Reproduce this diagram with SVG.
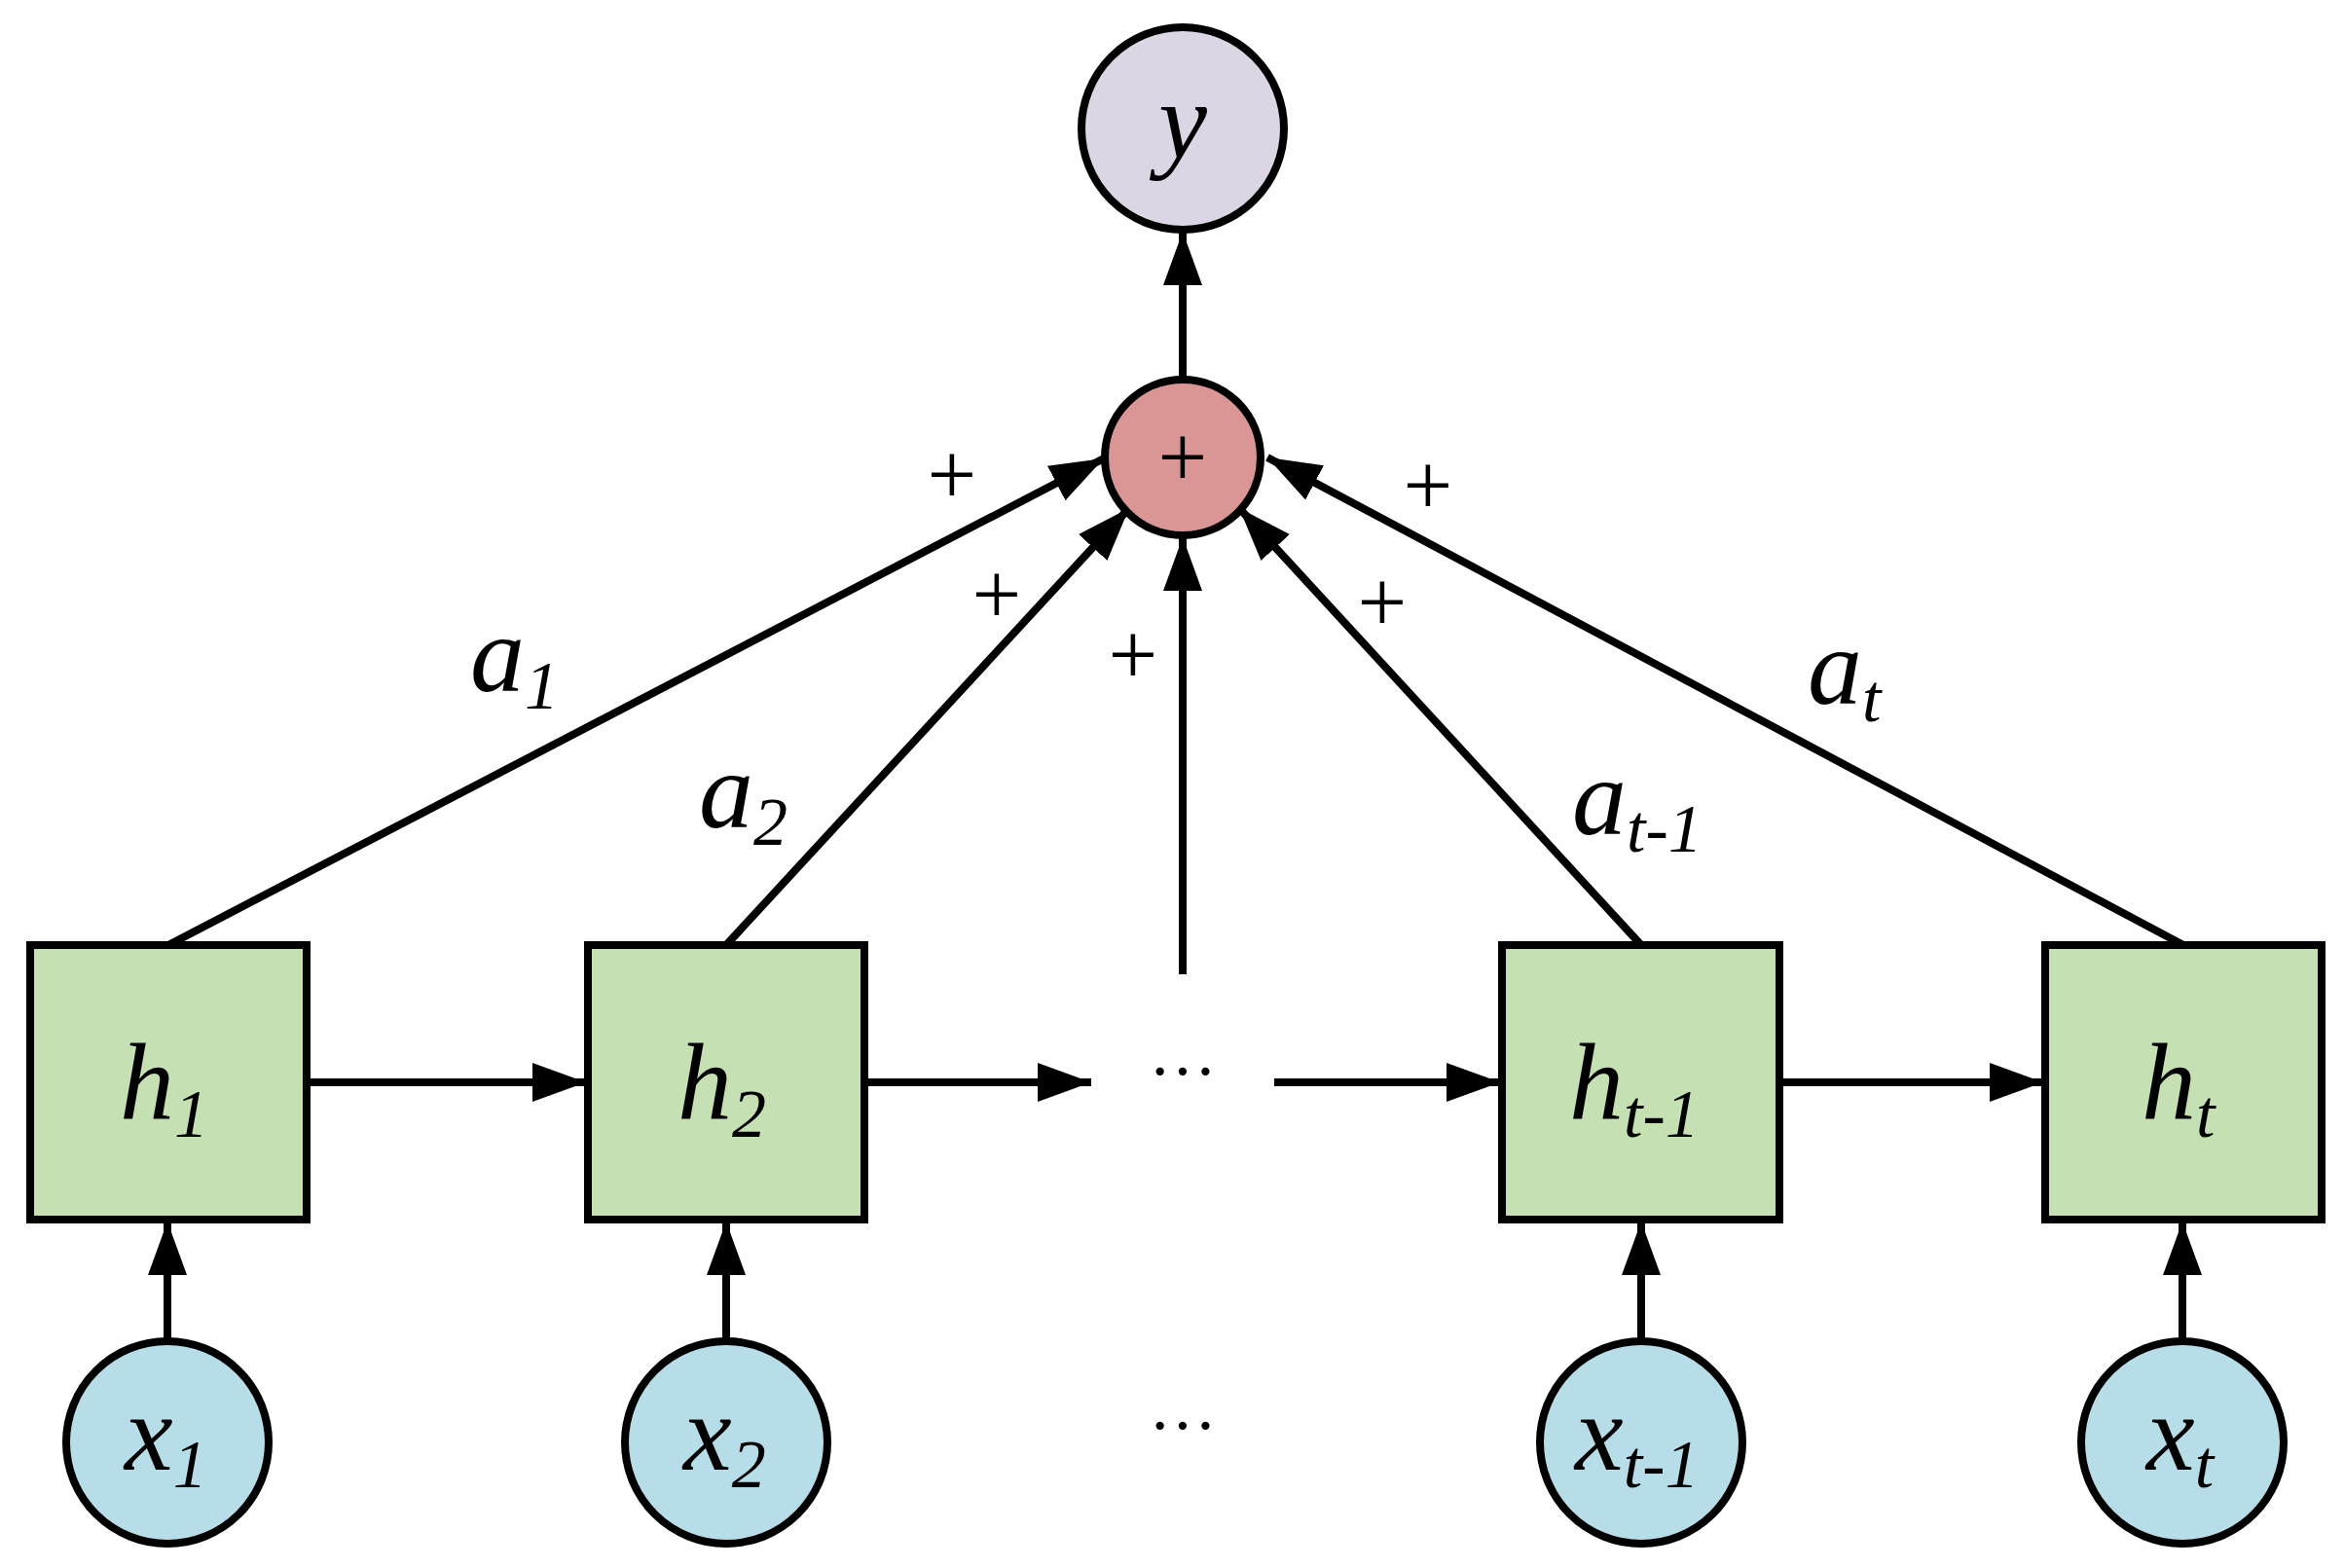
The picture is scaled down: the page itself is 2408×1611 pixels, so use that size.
<svg xmlns="http://www.w3.org/2000/svg" width="2408" height="1611" viewBox="0 0 2408 1611">
<style>
.box{fill:#c5e0b3;stroke:#000;stroke-width:8}
.xin{fill:#b7dee8;stroke:#000;stroke-width:8}
.out{fill:#dcd6e4;stroke:#000;stroke-width:8}
.sum{fill:#d99694;stroke:#000;stroke-width:8}
.ln{stroke:#000;stroke-width:8;fill:none;marker-end:url(#ah)}
.v{font-family:"Liberation Serif",serif;font-style:italic;font-size:112px;fill:#000}
.s{font-family:"Liberation Serif",serif;font-size:70px;fill:#000}
.si{font-family:"Liberation Serif",serif;font-style:italic;font-size:70px;fill:#000}
.p{font-family:"Liberation Serif",serif;font-size:90px;fill:#000}
.d{font-family:"Liberation Serif",serif;font-size:70px;fill:#000}
</style>
<defs>
<marker id="ah" markerUnits="userSpaceOnUse" markerWidth="60" markerHeight="44" refX="55" refY="20" orient="auto">
<path d="M0,0 L55,20 L0,40 z" fill="#000"/>
</marker>
</defs>
<g id="connectors">
<line class="ln" x1="1215" y1="390" x2="1215" y2="238"/>
<line class="ln" x1="173" y1="971" x2="1134" y2="471"/>
<line class="ln" x1="746" y1="971" x2="1160" y2="522"/>
<line class="ln" x1="1215" y1="1001" x2="1215" y2="552"/>
<line class="ln" x1="1686" y1="971" x2="1273" y2="522"/>
<line class="ln" x1="2243" y1="971" x2="1302" y2="470"/>
<line class="ln" x1="315" y1="1112" x2="602" y2="1112"/>
<line class="ln" x1="888" y1="1112" x2="1121" y2="1112"/>
<line class="ln" x1="1309" y1="1112" x2="1541" y2="1112"/>
<line class="ln" x1="1828" y1="1112" x2="2099" y2="1112"/>
<line class="ln" x1="172" y1="1378" x2="172" y2="1255"/>
<line class="ln" x1="746" y1="1378" x2="746" y2="1255"/>
<line class="ln" x1="1686" y1="1378" x2="1686" y2="1255"/>
<line class="ln" x1="2242" y1="1378" x2="2242" y2="1255"/>
</g>
<g id="labels">
<text x="483" y="710" class="v">a<tspan class="s" dy="18">1</tspan></text>
<text x="718" y="850" class="v">a<tspan class="s" dy="18">2</tspan></text>
<text x="1615" y="857" class="v">a<tspan class="si" dy="18">t</tspan><tspan class="s">-1</tspan></text>
<text x="1857" y="723" class="v">a<tspan class="si" dy="18">t</tspan></text>
<text x="978" y="518" class="p" text-anchor="middle">+</text>
<text x="1024" y="641" class="p" text-anchor="middle">+</text>
<text x="1164" y="703" class="p" text-anchor="middle">+</text>
<text x="1420" y="649" class="p" text-anchor="middle">+</text>
<text x="1467" y="529" class="p" text-anchor="middle">+</text>
<text x="1215" y="1124" class="d" text-anchor="middle">···</text>
<text x="1215" y="1488" class="d" text-anchor="middle">···</text>
</g>
<g id="y"><circle class="out" cx="1215" cy="132" r="104"/><text x="1215" y="162" class="v" text-anchor="middle">y</text></g>
<g id="sum"><circle class="sum" cx="1215" cy="470" r="80"/><text x="1215" y="500" class="p" text-anchor="middle">+</text></g>
<g id="h1"><rect class="box" x="31" y="971" width="284" height="282"/><text x="123" y="1150" class="v">h<tspan class="s" dy="18">1</tspan></text></g>
<g id="h2"><rect class="box" x="604" y="971" width="284" height="282"/><text x="696" y="1150" class="v">h<tspan class="s" dy="18">2</tspan></text></g>
<g id="ht1"><rect class="box" x="1543" y="971" width="285" height="282"/><text x="1612" y="1150" class="v">h<tspan class="si" dy="18">t</tspan><tspan class="s">-1</tspan></text></g>
<g id="ht"><rect class="box" x="2101" y="971" width="284" height="282"/><text x="2200" y="1150" class="v">h<tspan class="si" dy="18">t</tspan></text></g>
<g id="x1"><circle class="xin" cx="172" cy="1482" r="104"/><text x="128" y="1510" class="v">x<tspan class="s" dy="18">1</tspan></text></g>
<g id="x2"><circle class="xin" cx="746" cy="1482" r="104"/><text x="702" y="1510" class="v">x<tspan class="s" dy="18">2</tspan></text></g>
<g id="xt1"><circle class="xin" cx="1686" cy="1482" r="104"/><text x="1618" y="1510" class="v">x<tspan class="si" dy="18">t</tspan><tspan class="s">-1</tspan></text></g>
<g id="xt"><circle class="xin" cx="2242" cy="1482" r="104"/><text x="2205" y="1510" class="v">x<tspan class="si" dy="18">t</tspan></text></g>
</svg>
